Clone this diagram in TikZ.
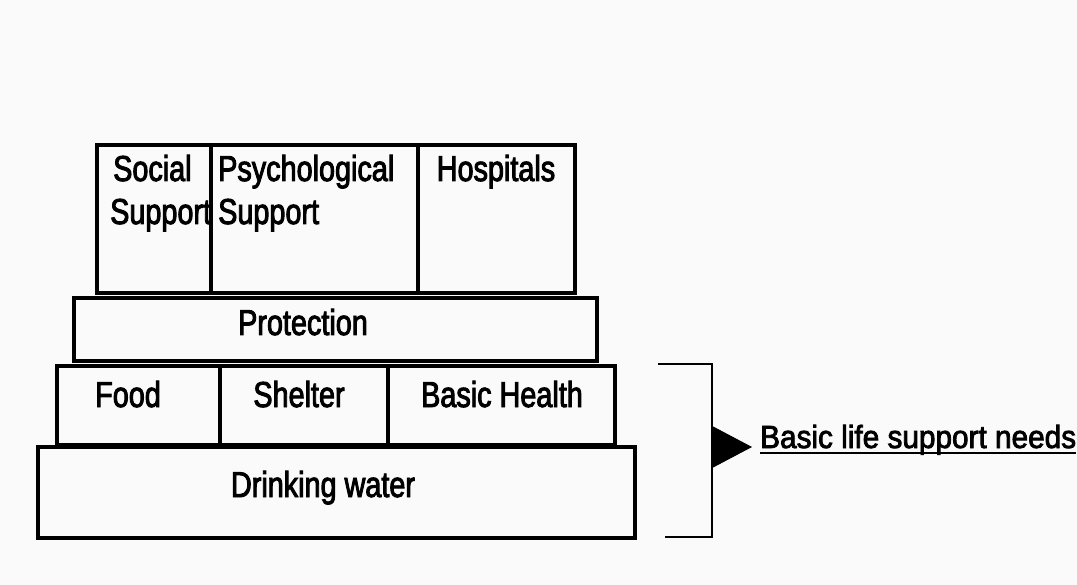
\documentclass[tikz,border=0pt]{standalone}
\usepackage{fontspec}
\setmainfont{Liberation Sans}[FakeStretch=0.8,FakeBold=2.5]
\newfontfamily\lblfont{Liberation Sans}[FakeStretch=0.93,FakeBold=2.5]
\usetikzlibrary{arrows.meta}
\definecolor{bg}{RGB}{249,250,249}
\begin{document}
\begin{tikzpicture}[x=1pt,y=-1pt,
  box/.style={draw=black,line width=3.8pt},
  txt/.style={inner sep=0pt,font=\fontsize{36}{43}\selectfont},
  thin/.style={draw=black,line width=2pt}]
\fill[bg] (0,0) rectangle (1077,585);
\useasboundingbox (0,0) rectangle (1077,585);
% top row
\draw[box] (97,145) rectangle (575,293);
\draw[box] (211,145) -- (211,293);
\draw[box] (418,145) -- (418,293);
% protection
\draw[box] (74,298) rectangle (597,361);
% food row
\draw[box] (57,366) rectangle (615,445);
\draw[box] (220,366) -- (220,445);
\draw[box] (388,366) -- (388,445);
% drinking water
\draw[box] (38,447) rectangle (635,538);
% texts
\node[txt,anchor=base west] (social1) at (113,181) {Social};
\node[txt,anchor=base west] (social2) at (110,224) {Support};
\node[txt,anchor=base west] (psych1) at (218,181) {Psychological};
\node[txt,anchor=base west] (psych2) at (218,224) {Support};
\node[txt,anchor=base] (hosp) at (496,181) {Hospitals};
\node[txt,anchor=base] (prot) at (303,335) {Protection};
\node[txt,anchor=base] (food) at (128,407) {Food};
\node[txt,anchor=base] (shelter) at (299,407) {Shelter};
\node[txt,anchor=base] (bhealth) at (502,407) {Basic Health};
\node[txt,anchor=base] (drink) at (323,497) {Drinking water};
% bracket
\coordinate (bt) at (658,364);
\coordinate (bc) at (712,364);
\coordinate (bb) at (712,537);
\coordinate (bbl) at (665,537);
\coordinate (bm) at (712,447);
\draw[thin] (bt) -- (bc) -- (bb) -- (bbl);
% label
\node[inner sep=0pt,anchor=base west,font=\lblfont\fontsize{32}{38}\selectfont] (lbl) at (760,448) {Basic life support needs};
\draw[thin] ([yshift=-5pt]lbl.base west) -- ([yshift=-5pt]lbl.base east);
\draw[line width=1pt,-{Triangle[length=40pt,width=42pt]}] (bm) -- ([xshift=-8pt]bm -| lbl.west);
\end{tikzpicture}
\end{document}
